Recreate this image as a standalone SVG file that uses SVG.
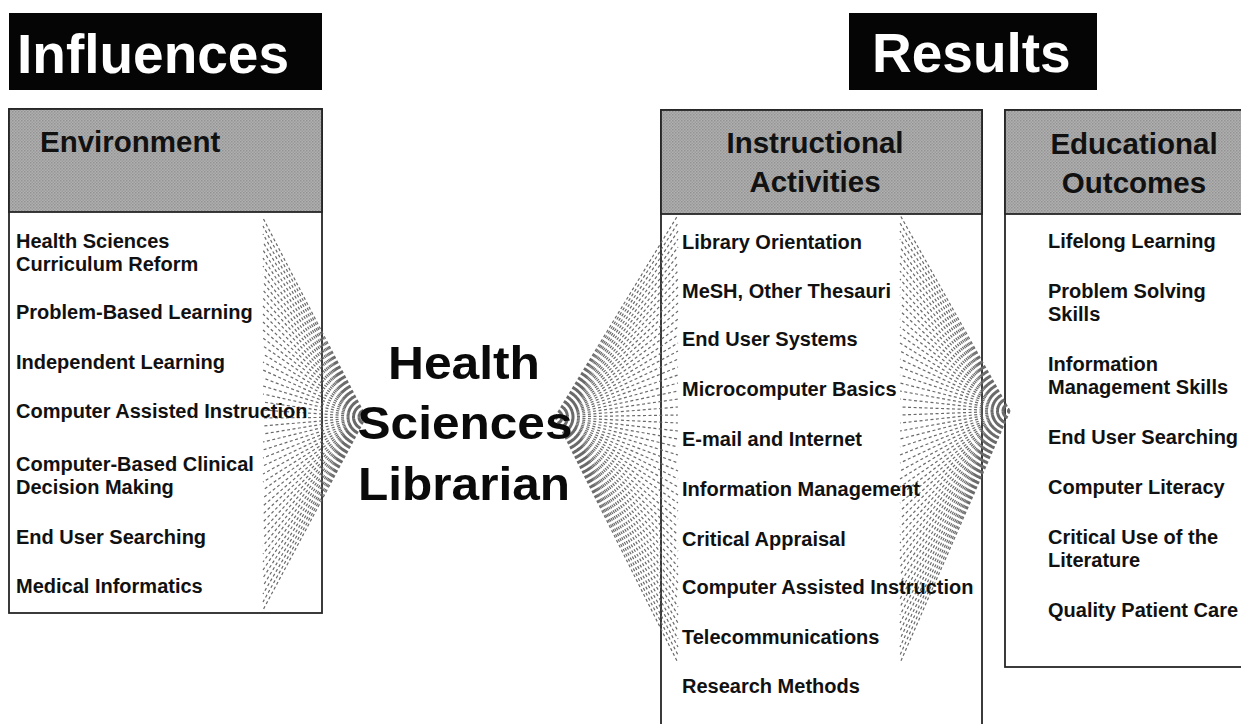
<svg xmlns="http://www.w3.org/2000/svg" width="1241" height="724" viewBox="0 0 1241 724">
<style>
.bg{fill:#ffffff}
.title-box{fill:#050505}
.title{font-family:"Liberation Sans",Arial,sans-serif;font-weight:bold;font-size:55px;fill:#ffffff}
.box{fill:#ffffff;stroke:#262626;stroke-width:1.8}
.hdr{fill:url(#halftone);stroke:#262626;stroke-width:1.8}
.htxt{font-family:"Liberation Sans",Arial,sans-serif;font-weight:bold;font-size:29.5px;fill:#111111}
.item{font-family:"Liberation Sans",Arial,sans-serif;font-weight:bold;font-size:20px;fill:#111111}
.center{font-family:"Liberation Sans",Arial,sans-serif;font-weight:bold;font-size:47px;fill:#0a0a0a}
.fan{fill:none;stroke:#6a6a6a;stroke-width:1.2;stroke-dasharray:3 2.5}
</style>
<defs>
<pattern id="halftone" width="3" height="3" patternUnits="userSpaceOnUse">
<rect width="3" height="3" fill="#b0b0b0"/>
<rect width="1.5" height="1.5" fill="#939393"/>
<rect x="1.5" y="1.5" width="1.5" height="1.5" fill="#9c9c9c"/>
</pattern>
</defs>
<rect class="bg" x="0" y="0" width="1241" height="724"/>

<g id="influences-title">
<rect class="title-box" x="9" y="13" width="313" height="77"/>
<text class="title" x="17" y="73">Influences</text>
</g>

<g id="results-title">
<rect class="title-box" x="849" y="13" width="248" height="77"/>
<text class="title" x="872" y="72">Results</text>
</g>

<g id="environment">
<rect class="box" x="9" y="109" width="313" height="504"/>
<rect class="hdr" x="9" y="109" width="313" height="103"/>
<text class="htxt" x="40" y="152">Environment</text>
</g>

<g id="instructional-activities">
<rect class="box" x="661" y="110" width="321" height="630"/>
<rect class="hdr" x="661" y="110" width="321" height="104"/>
<text class="htxt" x="815" y="153" text-anchor="middle">Instructional</text>
<text class="htxt" x="815" y="192" text-anchor="middle">Activities</text>
</g>

<g id="educational-outcomes">
<rect class="box" x="1005" y="110" width="250" height="557"/>
<rect class="hdr" x="1005" y="110" width="250" height="104"/>
<text class="htxt" x="1134" y="154" text-anchor="middle">Educational</text>
<text class="htxt" x="1134" y="193" text-anchor="middle">Outcomes</text>
</g>

<g id="connectors">
<path class="fan" d="M366 417L263 218M366 417L263 226M366 417L263 234M366 417L263 242M366 417L263 250M366 417L263 258M366 417L263 266M366 417L263 274M366 417L263 282M366 417L263 290M366 417L263 298M366 417L263 306M366 417L263 314M366 417L263 322M366 417L263 330M366 417L263 338M366 417L263 346M366 417L263 354M366 417L263 362M366 417L263 370M366 417L263 378M366 417L263 386M366 417L263 394M366 417L263 402M366 417L263 410M366 417L263 418M366 417L263 426M366 417L263 434M366 417L263 442M366 417L263 450M366 417L263 458M366 417L263 466M366 417L263 474M366 417L263 482M366 417L263 490M366 417L263 498M366 417L263 506M366 417L263 514M366 417L263 522M366 417L263 530M366 417L263 538M366 417L263 546M366 417L263 554M366 417L263 562M366 417L263 570M366 417L263 578M366 417L263 586M366 417L263 594M366 417L263 602M366 417L263 610"/>
<path class="fan" d="M555 417L678 215M555 417L678 223M555 417L678 231M555 417L678 239M555 417L678 247M555 417L678 255M555 417L678 263M555 417L678 271M555 417L678 279M555 417L678 287M555 417L678 295M555 417L678 303M555 417L678 311M555 417L678 319M555 417L678 327M555 417L678 335M555 417L678 343M555 417L678 351M555 417L678 359M555 417L678 367M555 417L678 375M555 417L678 383M555 417L678 391M555 417L678 399M555 417L678 407M555 417L678 415M555 417L678 423M555 417L678 431M555 417L678 439M555 417L678 447M555 417L678 455M555 417L678 463M555 417L678 471M555 417L678 479M555 417L678 487M555 417L678 495M555 417L678 503M555 417L678 511M555 417L678 519M555 417L678 527M555 417L678 535M555 417L678 543M555 417L678 551M555 417L678 559M555 417L678 567M555 417L678 575M555 417L678 583M555 417L678 591M555 417L678 599M555 417L678 607M555 417L678 615M555 417L678 623M555 417L678 631M555 417L678 639M555 417L678 647M555 417L678 655M555 417L678 663"/>
<path class="fan" d="M1010 411L900 215M1010 411L900 223M1010 411L900 231M1010 411L900 239M1010 411L900 247M1010 411L900 255M1010 411L900 263M1010 411L900 271M1010 411L900 279M1010 411L900 287M1010 411L900 295M1010 411L900 303M1010 411L900 311M1010 411L900 319M1010 411L900 327M1010 411L900 335M1010 411L900 343M1010 411L900 351M1010 411L900 359M1010 411L900 367M1010 411L900 375M1010 411L900 383M1010 411L900 391M1010 411L900 399M1010 411L900 407M1010 411L900 415M1010 411L900 423M1010 411L900 431M1010 411L900 439M1010 411L900 447M1010 411L900 455M1010 411L900 463M1010 411L900 471M1010 411L900 479M1010 411L900 487M1010 411L900 495M1010 411L900 503M1010 411L900 511M1010 411L900 519M1010 411L900 527M1010 411L900 535M1010 411L900 543M1010 411L900 551M1010 411L900 559M1010 411L900 567M1010 411L900 575M1010 411L900 583M1010 411L900 591M1010 411L900 599M1010 411L900 607M1010 411L900 615M1010 411L900 623M1010 411L900 631M1010 411L900 639M1010 411L900 647M1010 411L900 655M1010 411L900 663"/>
</g>

<g id="environment-items">
<text class="item" x="16" y="248">Health Sciences</text>
<text class="item" x="16" y="271">Curriculum Reform</text>
<text class="item" x="16" y="319">Problem-Based Learning</text>
<text class="item" x="16" y="369">Independent Learning</text>
<text class="item" x="16" y="418">Computer Assisted Instruction</text>
<text class="item" x="16" y="471">Computer-Based Clinical</text>
<text class="item" x="16" y="494">Decision Making</text>
<text class="item" x="16" y="544">End User Searching</text>
<text class="item" x="16" y="593">Medical Informatics</text>
</g>

<g id="health-sciences-librarian">
<text class="center" x="464" y="379" text-anchor="middle" textLength="152" lengthAdjust="spacingAndGlyphs">Health</text>
<text class="center" x="465" y="439" text-anchor="middle" textLength="215" lengthAdjust="spacingAndGlyphs">Sciences</text>
<text class="center" x="464" y="500" text-anchor="middle" textLength="212" lengthAdjust="spacingAndGlyphs">Librarian</text>
</g>

<g id="instructional-items">
<text class="item" x="682" y="249">Library Orientation</text>
<text class="item" x="682" y="298">MeSH, Other Thesauri</text>
<text class="item" x="682" y="346">End User Systems</text>
<text class="item" x="682" y="396">Microcomputer Basics</text>
<text class="item" x="682" y="446">E-mail and Internet</text>
<text class="item" x="682" y="496">Information Management</text>
<text class="item" x="682" y="546">Critical Appraisal</text>
<text class="item" x="682" y="594">Computer Assisted Instruction</text>
<text class="item" x="682" y="644">Telecommunications</text>
<text class="item" x="682" y="693">Research Methods</text>
</g>

<g id="outcome-items">
<text class="item" x="1048" y="248">Lifelong Learning</text>
<text class="item" x="1048" y="298">Problem Solving</text>
<text class="item" x="1048" y="321">Skills</text>
<text class="item" x="1048" y="371">Information</text>
<text class="item" x="1048" y="394">Management Skills</text>
<text class="item" x="1048" y="444">End User Searching</text>
<text class="item" x="1048" y="494">Computer Literacy</text>
<text class="item" x="1048" y="544">Critical Use of the</text>
<text class="item" x="1048" y="567">Literature</text>
<text class="item" x="1048" y="617">Quality Patient Care</text>
</g>
</svg>
